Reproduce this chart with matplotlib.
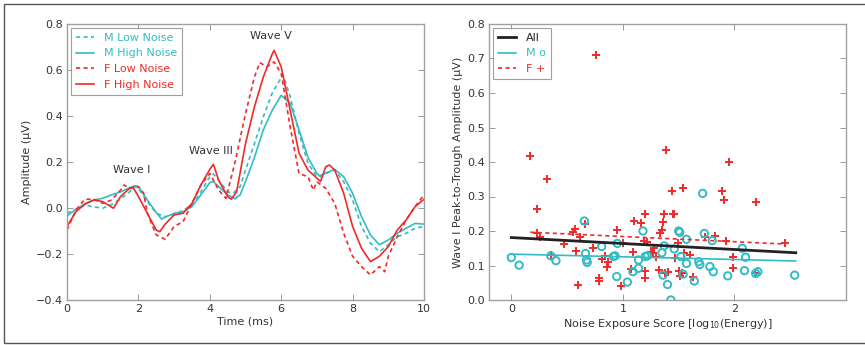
import numpy as np
import matplotlib
matplotlib.use("Agg")
import matplotlib.pyplot as plt
from matplotlib.patches import Rectangle

# ---------------- data: ABR waveforms ----------------
t_m_high = [0, 0.25, 0.5, 0.75, 1.0, 1.25, 1.5, 1.75, 1.9, 2.0, 2.25, 2.5, 2.65, 2.75, 3.0, 3.25, 3.5, 3.75, 4.0, 4.1,
            4.25, 4.5, 4.7, 4.85, 5.0, 5.25, 5.5, 5.75, 6.0, 6.25, 6.5, 6.75, 7.0, 7.1, 7.25, 7.5, 7.75, 8.0, 8.25, 8.5,
            8.75, 9.0, 9.25, 9.5, 9.75, 10.0]
y_m_high = [-0.035, -0.005, 0.017, 0.035, 0.042, 0.057, 0.07, 0.088, 0.097, 0.093, 0.035, -0.02, -0.048, -0.04, -0.023,
            -0.016, 0.006, 0.057, 0.11, 0.115, 0.093, 0.057, 0.04, 0.057, 0.115, 0.22, 0.34, 0.425, 0.49, 0.455, 0.34,
            0.22, 0.15, 0.136, 0.153, 0.168, 0.136, 0.064, -0.038, -0.117, -0.16, -0.139, -0.11, -0.088, -0.067, -0.07]

t_m_low = [0, 0.25, 0.5, 0.75, 1.0, 1.25, 1.5, 1.75, 1.9, 2.0, 2.25, 2.5, 2.75, 3.0, 3.25, 3.5, 3.75, 4.0, 4.1, 4.25,
           4.5, 4.65, 4.85, 5.0, 5.25, 5.5, 5.75, 6.05, 6.25, 6.5, 6.75, 7.0, 7.25, 7.5, 7.75, 8.0, 8.25, 8.5, 8.75,
           9.0, 9.25, 9.5, 9.75, 10.0]
y_m_low = [-0.023, -0.006, 0.013, 0.005, -0.001, 0.015, 0.04, 0.07, 0.093, 0.085, 0.028, -0.023, -0.038, -0.03, -0.01,
           0.013, 0.07, 0.136, 0.148, 0.12, 0.07, 0.064, 0.093, 0.165, 0.28, 0.397, 0.5, 0.58, 0.485, 0.325, 0.194,
           0.136, 0.15, 0.165, 0.114, 0.035, -0.08, -0.153, -0.19, -0.16, -0.125, -0.11, -0.088, -0.08]

t_f_high = [0, 0.25, 0.5, 0.75, 1.0, 1.3, 1.5, 1.75, 1.85, 2.0, 2.25, 2.5, 2.6, 2.75, 3.0, 3.25, 3.5, 3.75, 4.0, 4.1,
            4.25, 4.5, 4.6, 4.75, 5.0, 5.25, 5.5, 5.75, 5.8, 6.0, 6.25, 6.5, 6.75, 7.0, 7.1, 7.25, 7.35, 7.5, 7.75,
            8.0, 8.25, 8.5, 8.75, 9.0, 9.25, 9.5, 9.75, 10.0]
y_f_high = [-0.08, -0.016, 0.017, 0.035, 0.028, -0.001, 0.05, 0.085, 0.09, 0.05, -0.023, -0.096, -0.103, -0.07, -0.03,
            -0.023, 0.02, 0.1, 0.168, 0.19, 0.12, 0.05, 0.038, 0.07, 0.28, 0.44, 0.57, 0.67, 0.685, 0.614, 0.426, 0.238,
            0.165, 0.13, 0.115, 0.18, 0.187, 0.165, 0.064, -0.08, -0.175, -0.233, -0.21, -0.168, -0.096, -0.052,
            0.006, 0.038]

t_f_low = [0, 0.25, 0.5, 0.75, 1.0, 1.25, 1.5, 1.6, 1.75, 2.0, 2.15, 2.25, 2.5, 2.75, 3.0, 3.25, 3.5, 3.75, 4.0, 4.25,
           4.45, 4.7, 5.0, 5.25, 5.4, 5.6, 5.8, 6.0, 6.25, 6.5, 6.75, 6.9, 7.0, 7.25, 7.5, 7.75, 8.0, 8.25, 8.5, 8.75,
           8.9, 9.0, 9.25, 9.5, 9.75, 10.0]
y_f_low = [-0.096, -0.009, 0.038, 0.038, 0.02, 0.035, 0.078, 0.1, 0.085, 0.093, 0.064, -0.023, -0.117, -0.136, -0.08,
           -0.06, 0.02, 0.1, 0.15, 0.078, 0.042, 0.194, 0.41, 0.57, 0.632, 0.614, 0.635, 0.585, 0.354, 0.15, 0.136,
           0.078, 0.114, 0.085, 0.02, -0.11, -0.21, -0.255, -0.291, -0.255, -0.277, -0.21, -0.125, -0.052, 0.006, 0.057]

wave_labels = ["Wave I", "Wave III", "Wave V"]
wave_label_t = [1.82, 4.03, 5.71]
wave_label_y = [0.165, 0.25, 0.748]

# ---------------- data: scatter ----------------
f_x = [0.756, 0.168, 0.324, 0.234, 0.23, 0.255, 0.36, 0.47, 0.57, 0.555, 0.615, 0.58, 0.60, 0.66, 0.73, 0.79, 0.79,
       0.81, 0.84, 0.87, 0.855, 0.945, 1.0, 0.98, 1.07, 1.09, 1.10, 1.16, 1.20, 1.19, 1.22, 1.20, 1.20, 1.27, 1.28,
       1.30, 1.32, 1.33, 1.35, 1.36, 1.37, 1.39, 1.38, 1.40, 1.44, 1.45, 1.46, 1.47, 1.49, 1.50, 1.51, 1.54, 1.55,
       1.60, 1.63, 1.74, 1.83, 1.89, 1.91, 1.92, 1.95, 1.99, 1.99, 2.19, 2.18, 2.45, 1.53, 1.25]
f_y = [0.709, 0.416, 0.350, 0.265, 0.193, 0.184, 0.130, 0.163, 0.205, 0.198, 0.182, 0.143, 0.043, 0.220, 0.150,
       0.065, 0.055, 0.120, 0.128, 0.111, 0.097, 0.203, 0.164, 0.042, 0.089, 0.140, 0.229, 0.224, 0.248, 0.172, 0.167,
       0.065, 0.084, 0.135, 0.150, 0.126, 0.087, 0.193, 0.203, 0.227, 0.250, 0.435, 0.077, 0.080, 0.316, 0.250, 0.250,
       0.121, 0.164, 0.085, 0.071, 0.326, 0.137, 0.130, 0.068, 0.184, 0.186, 0.316, 0.290, 0.170, 0.401, 0.126, 0.094,
       0.283, 0.077, 0.164, 0.078, 0.140]

m_x = [0.0, 0.07, 0.354, 0.40, 0.654, 0.665, 0.675, 0.68, 0.81, 0.915, 0.93, 0.95, 0.945, 1.04, 1.09, 1.14, 1.14,
       1.18, 1.20, 1.22, 1.35, 1.37, 1.36, 1.40, 1.43, 1.46, 1.50, 1.51, 1.52, 1.54, 1.57, 1.57, 1.64, 1.68, 1.69,
       1.715, 1.73, 1.78, 1.80, 1.81, 1.94, 2.07, 2.09, 2.10, 2.21, 2.54, 2.19]
m_y = [0.123, 0.101, 0.128, 0.114, 0.229, 0.135, 0.116, 0.109, 0.155, 0.126, 0.128, 0.164, 0.068, 0.052, 0.082,
       0.092, 0.116, 0.200, 0.126, 0.128, 0.137, 0.157, 0.072, 0.045, 0.0, 0.148, 0.200, 0.196, 0.126, 0.075, 0.176,
       0.106, 0.055, 0.111, 0.103, 0.309, 0.193, 0.097, 0.172, 0.082, 0.070, 0.150, 0.085, 0.124, 0.082, 0.072, 0.077]

# regression fits: (intercept, slope, x_start, x_end)
fit_all = [0.181, -0.0173, 0.0, 2.55]
fit_m = [0.133, -0.0078, 0.0, 2.55]
fit_f = [0.199, -0.0150, 0.17, 2.45]

# ---------------- styling ----------------
CYAN = "#33bcc4"
RED = "#f02a2a"
SPINE = "#a0a0a0"
TXT = "#333333"

plt.rcParams['font.family'] = ['DejaVu Sans']
plt.rcParams['font.size'] = 8

fig = plt.figure(figsize=(8.65, 3.45), dpi=100)

ax1 = fig.add_axes([67 / 865, 45 / 345, 357 / 865, 276 / 345])
ax2 = fig.add_axes([489 / 865, 45 / 345, 357 / 865, 276 / 345])

for ax in (ax1, ax2):
    for s in ax.spines.values():
        s.set_color(SPINE)
        s.set_linewidth(1.0)
    ax.tick_params(direction='in', top=True, right=True, length=4, width=0.6,
                   color='#888888', labelsize=8, labelcolor=TXT, pad=3)

# left panel
ax1.plot(t_m_low, y_m_low, color=CYAN, lw=1.2, ls=(0, (2.5, 2)), label="M Low Noise")
ax1.plot(t_m_high, y_m_high, color=CYAN, lw=1.2, label="M High Noise")
ax1.plot(t_f_low, y_f_low, color=RED, lw=1.2, ls=(0, (2.5, 2)), label="F Low Noise")
ax1.plot(t_f_high, y_f_high, color=RED, lw=1.2, label="F High Noise")
for lab, tx, ty in zip(wave_labels, wave_label_t, wave_label_y):
    ax1.text(tx, ty, lab, ha='center', va='center', fontsize=8, color=TXT)
ax1.set_xlim(0, 10)
ax1.set_ylim(-0.4, 0.8)
ax1.set_xticks([0, 2, 4, 6, 8, 10])
ax1.set_yticks([-0.4, -0.2, 0.0, 0.2, 0.4, 0.6, 0.8])
ax1.set_xlabel("Time (ms)", fontsize=8, color=TXT, labelpad=2)
ax1.set_ylabel("Amplitude (μV)", fontsize=8, color=TXT, labelpad=3)
leg1 = ax1.legend(loc='upper left', fontsize=8, frameon=True, fancybox=False, handlelength=1.6,
                  borderaxespad=0.35, labelspacing=0.5, handletextpad=0.9, borderpad=0.45)
leg1.get_frame().set_edgecolor('#888888')
leg1.get_frame().set_linewidth(0.8)
for txt, c in zip(leg1.get_texts(), [CYAN, CYAN, RED, RED]):
    txt.set_color(c)

# right panel
def fit_line(ax, fit, **kw):
    b0, b1, xs, xe = fit
    xx = np.array([xs, xe])
    return ax.plot(xx, b0 + b1 * xx, **kw)

ax2.scatter(f_x, f_y, marker='+', s=30, color=RED, linewidths=1.4, zorder=3)
ax2.scatter(m_x, m_y, marker='o', s=28, facecolors='none', edgecolors=CYAN, linewidths=1.4, zorder=3)
fit_line(ax2, fit_all, color='#222222', lw=2.0, label="All", zorder=4)
fit_line(ax2, fit_m, color=CYAN, lw=1.2, label="M o", zorder=4)
fit_line(ax2, fit_f, color=RED, lw=1.2, ls=(0, (2.5, 2)), label="F +", zorder=4)
ax2.set_xlim(-0.2, 3.0)
ax2.set_ylim(0, 0.8)
ax2.set_xticks([0, 1, 2])
ax2.set_yticks(np.arange(0, 0.81, 0.1))
ax2.set_yticklabels([f"{v:.1f}" for v in np.arange(0, 0.81, 0.1)])
ax2.set_xlabel("Noise Exposure Score [log$_{10}$(Energy)]", fontsize=8, color=TXT, labelpad=2)
ax2.set_ylabel("Wave I Peak-to-Trough Amplitude (μV)", fontsize=8, color=TXT, labelpad=3)
leg2 = ax2.legend(loc='upper left', fontsize=8, frameon=True, fancybox=False, handlelength=1.6,
                  borderaxespad=0.35, labelspacing=0.5, handletextpad=0.9, borderpad=0.45)
leg2.get_frame().set_edgecolor('#888888')
leg2.get_frame().set_linewidth(0.8)
for txt, c in zip(leg2.get_texts(), ['#222222', CYAN, RED]):
    txt.set_color(c)

# outer frame
fig.patches.append(Rectangle((4 / 865, 2 / 345), 1.1, 339 / 345, transform=fig.transFigure,
                             fill=False, edgecolor='#555555', lw=1.0, zorder=10))

fig.savefig("out.png", dpi=100)
